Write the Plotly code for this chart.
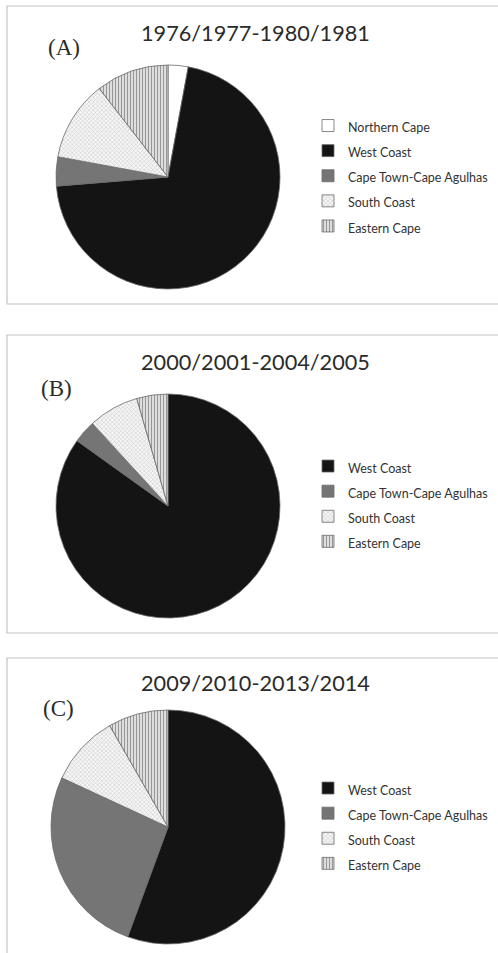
import plotly.graph_objects as go

# ---- data ----
titles = ["1976/1977-1980/1981", "2000/2001-2004/2005", "2009/2010-2013/2014"]
panel_tags = ["(A)", "(B)", "(C)"]

labels_a = ["Northern Cape", "West Coast", "Cape Town-Cape Agulhas", "South Coast", "Eastern Cape"]
values_a = [2.9, 70.8, 4.2, 11.6, 10.5]

labels_b = ["West Coast", "Cape Town-Cape Agulhas", "South Coast", "Eastern Cape"]
values_b = [84.9, 3.3, 7.3, 4.5]

labels_c = ["West Coast", "Cape Town-Cape Agulhas", "South Coast", "Eastern Cape"]
values_c = [55.6, 26.3, 9.8, 8.3]

# ---- styles ----
W, H = 498, 953
style = {
    "Northern Cape": dict(color="#ffffff", shape="", fg="#ffffff", bg="#ffffff"),
    "West Coast": dict(color="#141414", shape="", fg="#141414", bg="#141414"),
    "Cape Town-Cape Agulhas": dict(color="#757575", shape="", fg="#757575", bg="#757575"),
    "South Coast": dict(color="#f0f0f0", shape="x", fg="#c4c4c4", bg="#f6f6f6"),
    "Eastern Cape": dict(color="#d4d4d4", shape="|", fg="#8e8e8e", bg="#dedede"),
}
FONT = "Lato"


def py(ypx):
    return 1 - ypx / H


def make_pie(labels, values, cx, cy, r, legend, tail):
    # slightly different (invisible) markup per panel so each panel keeps its own legend
    disp = [f'<span style="font-size:12.5px{tail}">{l}</span>' for l in labels]
    return go.Pie(
        labels=disp,
        values=values,
        sort=False,
        direction="clockwise",
        rotation=0,
        textinfo="none",
        hoverinfo="label+percent",
        domain=dict(x=[(cx - r) / W, (cx + r) / W], y=[py(cy + r), py(cy - r)]),
        marker=dict(
            colors=[style[l]["color"] for l in labels],
            line=dict(color="#6a6a6a", width=0.8),
            pattern=dict(
                shape=[style[l]["shape"] for l in labels],
                fgcolor=[style[l]["fg"] for l in labels],
                bgcolor=[style[l]["bg"] for l in labels],
                size=3,
                solidity=0.3,
                fillmode="replace",
            ),
        ),
        legend=legend,
        showlegend=True,
    )


fig = go.Figure()
fig.add_trace(make_pie(labels_a, values_a, 168, 177, 112, "legend", ""))
fig.add_trace(make_pie(labels_b, values_b, 168, 506, 112, "legend2", ";"))
fig.add_trace(make_pie(labels_c, values_c, 168, 827, 117, "legend3", "; "))

legend_common = dict(
    xanchor="left",
    yanchor="middle",
    x=308 / W,
    bgcolor="rgba(0,0,0,0)",
    font=dict(family=FONT, size=17, color="#333333"),
    itemclick=False,
    itemdoubleclick=False,
)

# panel frames
frames = [(7, 6, 520, 304), (7, 335, 520, 633), (7, 658, 520, 980)]
shapes = [
    dict(type="rect", xref="paper", yref="paper",
         x0=x0 / W, x1=x1 / W, y0=py(y1), y1=py(y0),
         line=dict(color="#c4c4c4", width=1.2), fillcolor="rgba(0,0,0,0)", layer="below")
    for (x0, y0, x1, y1) in frames
]

title_y = [33, 362, 683]
tag_pos = [(64, 48), (56, 388), (58, 708)]
annotations = []
for t, ty, tag, (tx, tgy) in zip(titles, title_y, panel_tags, tag_pos):
    annotations.append(dict(text=t, x=255 / W, y=py(ty), xref="paper", yref="paper",
                            showarrow=False, xanchor="center", yanchor="middle",
                            font=dict(family=FONT, size=21.7, color="#2b2b2b")))
    annotations.append(dict(text=tag, x=tx / W, y=py(tgy), xref="paper", yref="paper",
                            showarrow=False, xanchor="center", yanchor="middle",
                            font=dict(family="Liberation Serif", size=23, color="#2b2b2b")))

fig.update_layout(
    width=W, height=H,
    margin=dict(l=0, r=0, t=0, b=0),
    paper_bgcolor="white",
    plot_bgcolor="white",
    shapes=shapes,
    annotations=annotations,
    legend=dict(legend_common, y=py(176)),
    legend2=dict(legend_common, y=py(504)),
    legend3=dict(legend_common, y=py(826)),
)

fig.write_html("out.html", config={"displayModeBar": False},
               post_script="document.body.style.margin='0';")
